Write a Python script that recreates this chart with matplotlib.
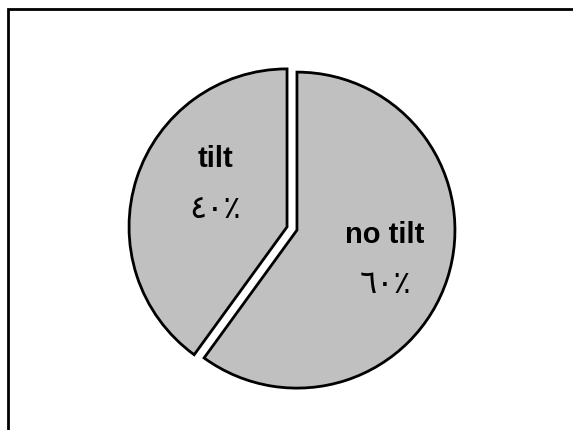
import matplotlib
matplotlib.use("Agg")
import matplotlib.pyplot as plt
from matplotlib.patches import Rectangle

# data
labels = ["no tilt", "tilt"]
values = [60, 40]
pct_text = ["٦٠٪", "٤٠٪"]
explode = [0.033, 0.033]

W, H = 573, 430
R = 158.0          # pie radius in pixels
cx, cy = 292, 228.5  # pie centre in pixels (from top-left)

fig = plt.figure(figsize=(W / 100, H / 100), dpi=100)
fig.patch.set_facecolor("white")
ax = fig.add_axes([0, 0, 1, 1])

wedges, _ = ax.pie(values, explode=explode, startangle=90, counterclock=False,
                   colors=["#c0c0c0", "#c0c0c0"],
                   wedgeprops=dict(edgecolor="black", linewidth=2.0))

ax.set_aspect("auto")
ax.set_xlim(-cx / R, (W - cx) / R)
ax.set_ylim(-(H - cy) / R, cy / R)
ax.axis("off")


def px(x, y):
    return (x - cx) / R, (cy - y) / R


# label positions (pixels): name baseline, percent baseline
name_pos = [(385, 243), (215, 167)]
pct_pos = [(385, 293), (215, 218)]
fams = ["Liberation Sans", "DejaVu Sans"]
for lab, pct, npos, ppos in zip(labels, pct_text, name_pos, pct_pos):
    ax.text(*px(*npos), lab, ha="center", va="baseline", fontsize=21,
            fontweight="bold", family=fams)
    ax.text(*px(*ppos), pct, ha="center", va="baseline", fontsize=23,
            family=["DejaVu Sans"])

# outer frame, cropped at right and bottom
fig.add_artist(Rectangle((8 / W, -0.2), 2, 1.2 - 9 / H, transform=fig.transFigure,
                         fill=False, edgecolor="black", linewidth=2.0))

fig.savefig("out.png", dpi=100)
